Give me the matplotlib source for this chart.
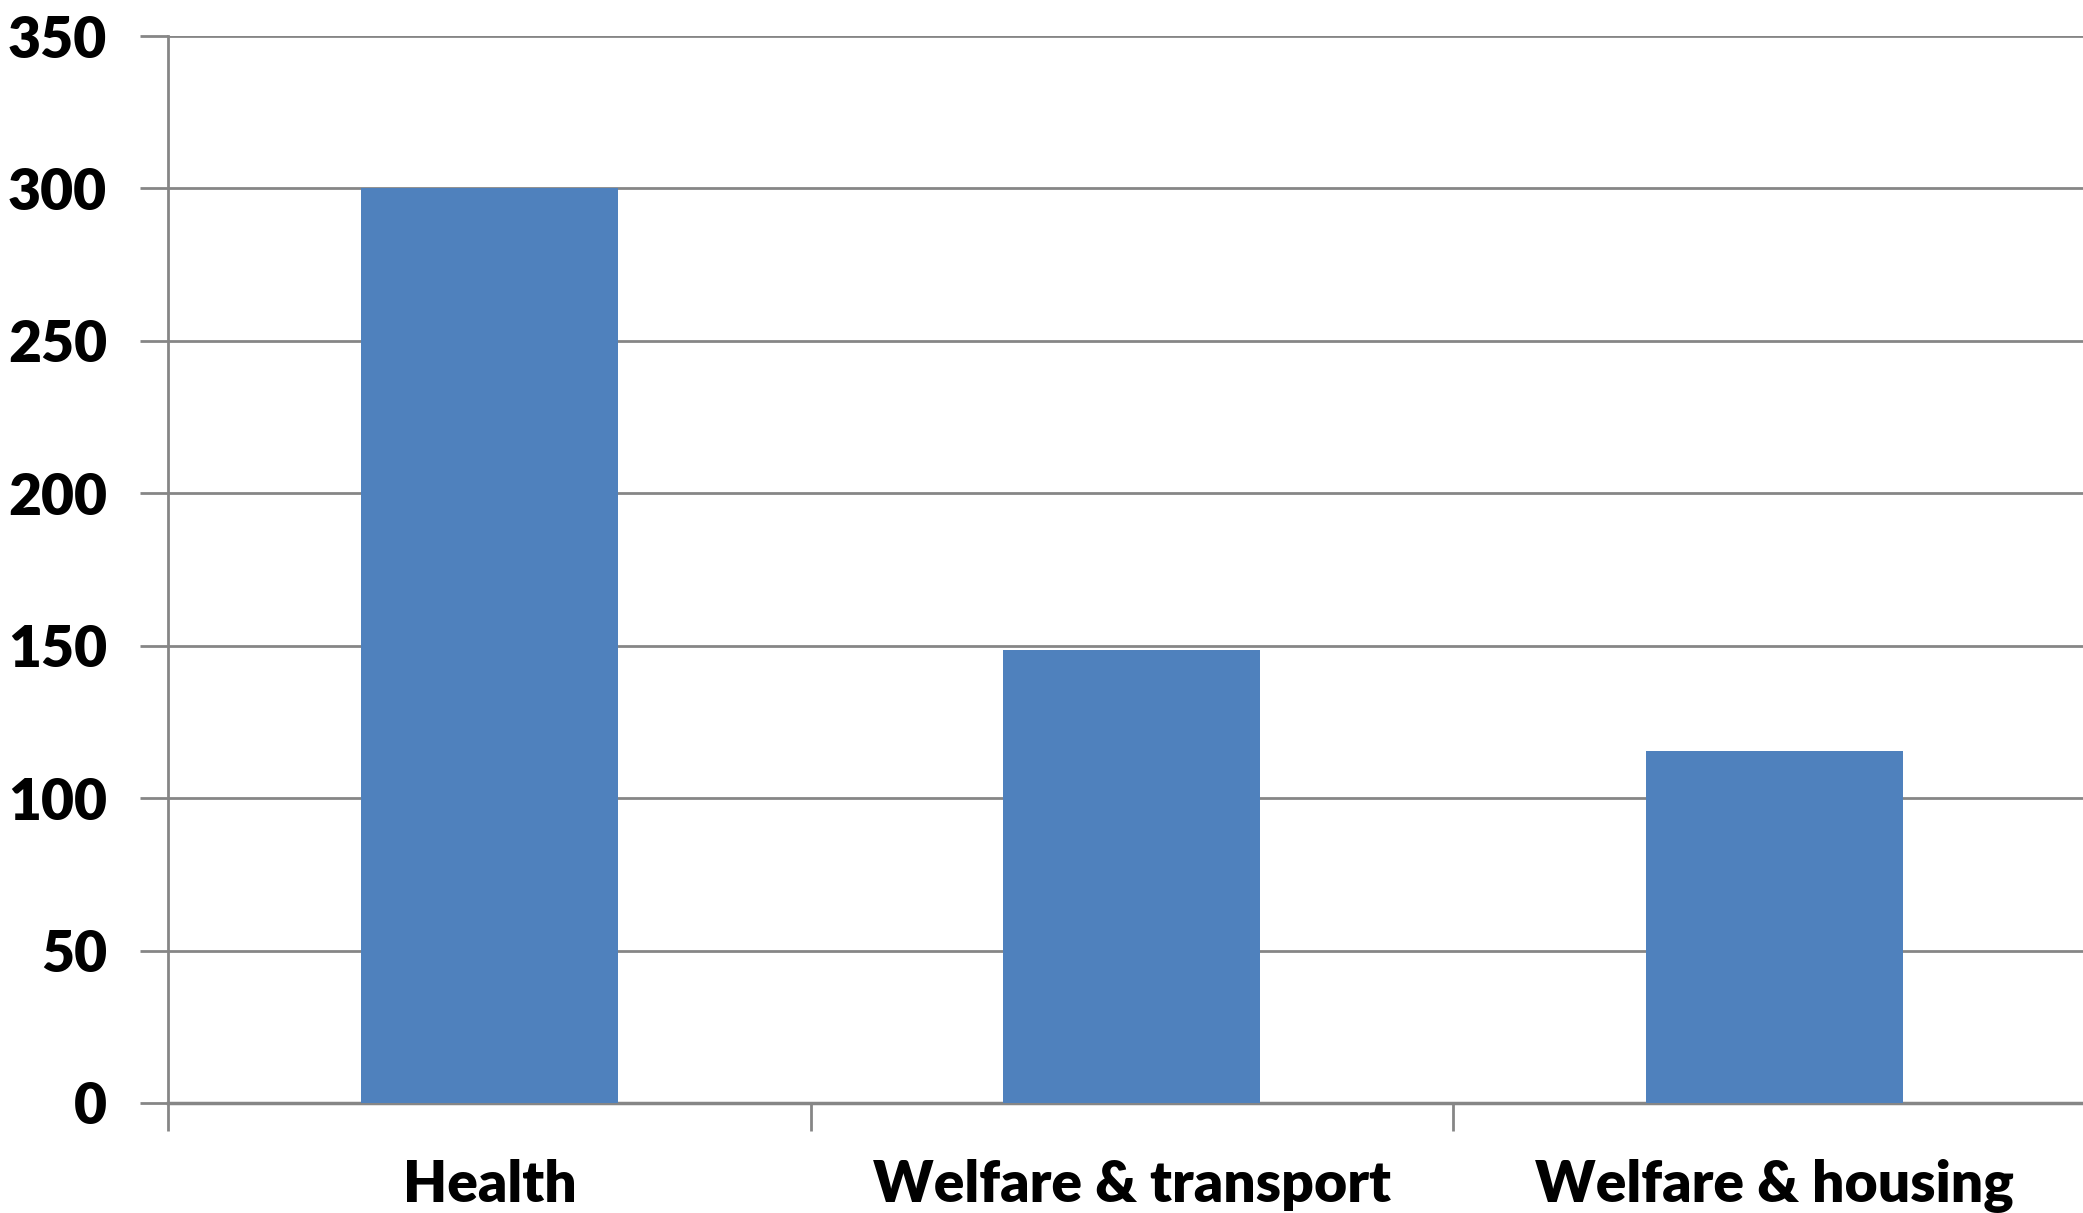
import matplotlib.pyplot as plt

categorias = ['Health', 'Welfare & transport', 'Welfare & housing']
valores = [300, 148.6, 115.5]
yticks = [0, 50, 100, 150, 200, 250, 300, 350]

plt.rcParams['font.family'] = ['Lato', 'DejaVu Sans']

fig = plt.figure(figsize=(20.83, 12.13), dpi=100)
ax = fig.add_axes([0.0807, 0.0907, 0.9193, 0.8796])

x = range(len(categorias))
ax.bar(x, valores, width=0.4, color='#4F81BD', zorder=3)

ax.set_ylim(0, 350)
ax.set_xlim(-0.5, 2.48)
ax.set_yticks(yticks)
ax.set_yticklabels([str(v) for v in yticks], fontsize=41, fontweight='heavy')
ax.yaxis.grid(True, color='#868686', linewidth=2, zorder=0)

# category ticks sit on the boundaries, labels in the middle
ax.set_xticks([-0.5, 0.5, 1.5])
ax.set_xticklabels([])
ax.set_xticks(list(x), minor=True)
ax.set_xticklabels(categorias, minor=True, fontsize=41, fontweight='heavy')
ax.tick_params(axis='x', which='minor', length=0, pad=40)
ax.tick_params(axis='x', which='major', length=20, width=2, color='#868686', direction='out')
ax.tick_params(axis='y', length=20, width=2, color='#868686', pad=24)

for s in ['top', 'right']:
    ax.spines[s].set_visible(False)
ax.spines['left'].set_color('#868686')
ax.spines['left'].set_linewidth(2)
ax.spines['bottom'].set_color('#868686')
ax.spines['bottom'].set_linewidth(2.5)

fig.savefig('out.png', dpi=100)
